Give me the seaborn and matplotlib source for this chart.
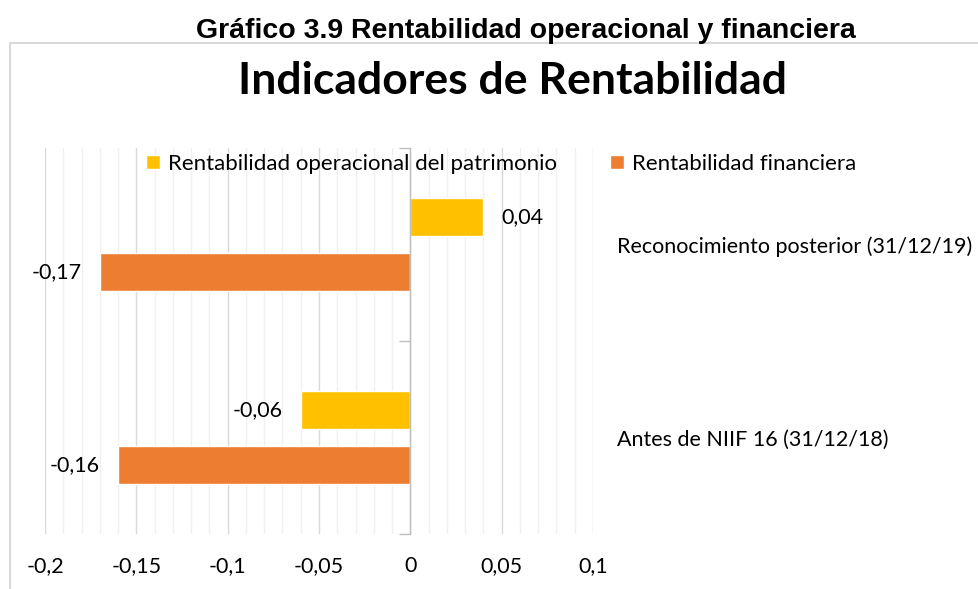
#Importing Modules

import pandas as pd
import matplotlib.pyplot as plt
import seaborn as sns
from matplotlib.patches import Rectangle
from matplotlib.ticker import MultipleLocator, FixedLocator, FuncFormatter

###

#Data

categorias = ["Reconocimiento posterior (31/12/19)", "Antes de NIIF 16 (31/12/18)"]
series = ["Rentabilidad operacional del patrimonio", "Rentabilidad financiera"]
rent_operacional = [0.04, -0.06]
rent_financiera = [-0.17, -0.16]
colores = ["#FFC000", "#ED7D31"]

df = pd.DataFrame({"categoria": categorias * 2,
                   "serie": [series[0]] * 2 + [series[1]] * 2,
                   "valor": rent_operacional + rent_financiera})

###

#Style

sns.set_theme(style="white")
plt.rcParams['font.family'] = ['Lato', 'DejaVu Sans']
plt.rcParams['text.color'] = 'black'


def coma(v, pos=None):
    v = round(v, 2)
    if abs(v) < 1e-9:
        return "0"
    return f"{v:g}".replace(".", ",")


###

#Plot

fig = plt.figure(figsize=(9.79, 5.89), dpi=100)
fig.patches.append(Rectangle((10 / 979, -0.05), 1.2, 1 - 43 / 589 + 0.05, transform=fig.transFigure,
                             fill=False, edgecolor="#d9d9d9", lw=1.5))

ax = fig.add_axes([45 / 979, 1 - 534 / 589, (593 - 45) / 979, (534 - 148) / 589])
sns.barplot(data=df, y="categoria", x="valor", hue="serie", order=categorias, hue_order=series,
            palette=colores, orient="h", width=0.57, gap=0.31, saturation=1, errorbar=None, ax=ax)

for c in ax.containers:
    ax.bar_label(c, labels=[coma(v) for v in c.datavalues], padding=13, fontsize=15.5, color="black")

ax.set_xlim(-0.2, 0.1)
ax.set_ylim(1.5, -0.5)
ax.set_xlabel("")
ax.set_ylabel("")
ax.xaxis.set_major_locator(MultipleLocator(0.05))
ax.xaxis.set_minor_locator(MultipleLocator(0.01))
ax.xaxis.set_major_formatter(FuncFormatter(coma))
ax.grid(axis="x", which="major", color="#d9d9d9", lw=1)
ax.grid(axis="x", which="minor", color="#f0f0f0", lw=1)
ax.set_axisbelow(True)

ax.tick_params(axis="x", which="both", length=0, pad=16, labelsize=15.5, labelcolor="black")
ax.tick_params(axis="y", which="major", left=False, right=False, labelleft=False, labelright=True,
               pad=11, labelsize=15.5, labelcolor="black")
ax.yaxis.set_minor_locator(FixedLocator([-0.5, 0.5, 1.5]))
ax.tick_params(axis="y", which="minor", left=True, length=8, width=1, color="#bfbfbf", direction="out")

for s in ["top", "right", "bottom"]:
    ax.spines[s].set_visible(False)
ax.spines["left"].set_position(("data", 0))
ax.spines["left"].set_color("#bfbfbf")
ax.spines["left"].set_linewidth(1)

h, l = ax.get_legend_handles_labels()
leg = ax.legend(h, l, loc="center", bbox_to_anchor=(501 / 979, 1 - 164 / 589), bbox_transform=fig.transFigure,
                ncol=2, frameon=False, fontsize=16, handlelength=0.62, handleheight=0.62,
                handletextpad=0.35, columnspacing=2.4)
for t in leg.get_texts():
    t.set_color("black")

fig.text(526 / 979, 1 - 31 / 589, "Gráfico 3.9 Rentabilidad operacional y financiera",
         family="Liberation Sans", weight="bold", fontsize=20.5, ha="center", va="center", color="black")
fig.text(513 / 979, 1 - 81 / 589, "Indicadores de Rentabilidad", weight="bold", fontsize=32,
         ha="center", va="center", color="black")

fig.savefig("out.png", dpi=100, facecolor="white")
